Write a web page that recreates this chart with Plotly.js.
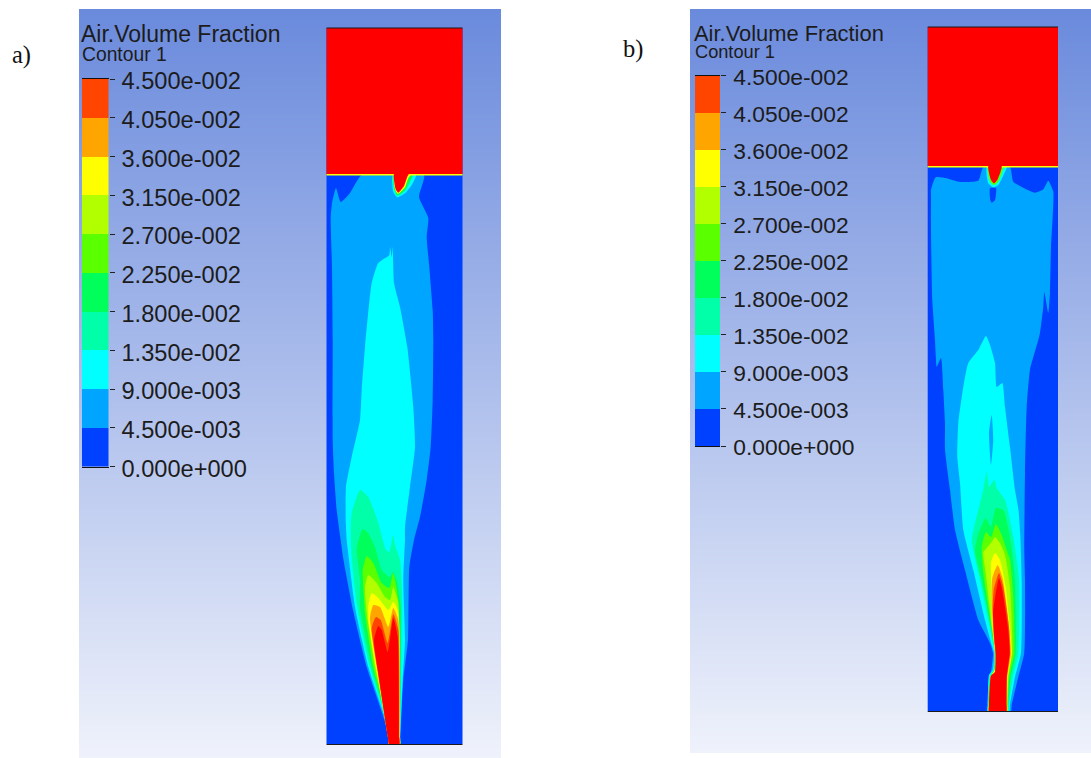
<!DOCTYPE html>
<html>
<head>
<meta charset="utf-8">
<script src="https://cdn.plot.ly/plotly-3.0.1.min.js"></script>
<style>html,body{margin:0;padding:0;background:#fff;overflow:hidden}#chart{width:1091px;height:758px}</style>
</head>
<body>
<div id="chart"></div>
<script>
// ---- Legend ----
const bandColors = ['#0040ff','#00a5ff','#00ffff','#00ffa8','#00ff5a','#5aff00','#b2ff00','#ffff00','#ffa500','#ff4500'];
const overColor = '#ff0000';
const tickValues = [0,0.0045,0.009,0.0135,0.018,0.0225,0.027,0.0315,0.036,0.0405,0.045];
const tickLabels = ['0.000e+000','4.500e-003','9.000e-003','1.350e-002','1.800e-002','2.250e-002','2.700e-002','3.150e-002','3.600e-002','4.050e-002','4.500e-002'];
const bandStep = 0.0045;
const legendTitle = 'Air.Volume Fraction';
const legendSub = 'Contour 1';

// ---- Panel a: contour outlines [x, height] ----
const colA = [[326.5,28],[462.5,28],[462.5,744],[326.5,744]];
const gasA = [[326.5,28],[462.5,28],[462.5,174],[326.5,174]];
const surfA = [[326.5,174],[462.5,174],[462.5,175.6],[326.5,175.6]];
const a1 = [[361.7,175],[350,193],[340.7,202],[336,188],[332,203],[330.7,218],[332,267],[332.7,340],[332.7,440],[334,473],[336.7,510],[340.7,540],[343,557],[353,610],[366.7,667],[385,722],[388.2,738],[389,744],[400,744],[400.3,738],[403.3,680],[408,640],[409.3,567],[414,540],[420,517],[426.7,480],[430.7,447],[432.7,400],[433.3,340],[432.7,310],[429.3,267],[426.7,237],[428.3,218],[419,197],[424,175]];
const a2 = [[390,247],[389.3,255],[378.3,263],[371.7,283],[365,347],[361.7,390],[360,420],[351.7,457],[346,487],[345.7,520],[346.7,540],[349,560],[355,607],[368.3,667],[386,722],[388.3,738],[389,744],[400,744],[400.2,738],[402.7,680],[405,640],[403.3,580],[405,540],[405,527],[410,487],[415,447],[413.3,407],[407.3,347],[400,307],[394,283],[392.7,247],[391.7,257]];
const a3 = [[389,744],[388.3,738],[386.7,722],[370,667],[357.3,607],[351.7,557],[350.7,533],[351.7,513],[360,490],[368.3,497],[378.3,523],[386,550],[389.3,552],[393.3,535],[395,545],[400,560],[402,590],[401.5,640],[400.1,738],[400,744]];
const a4 = [[389,744],[388.4,738],[387.3,722],[371.7,667],[360,607],[360,580],[356.7,550],[357.7,543],[362.7,529],[368,533],[375,547],[381.7,570],[390,577],[393.3,572],[397.3,583],[400.7,607],[400.1,738],[400,744]];
const a5 = [[389,744],[388.5,738],[387.7,722],[373.3,667],[365,613],[363.3,587],[362.7,570],[366.7,556],[373.3,563],[381.7,583],[389.3,588],[393.3,573],[398.3,600],[399.9,738],[400,744]];
const a6 = [[389,744],[388.5,738],[388,722],[375,667],[366.7,613],[365,587],[368.3,575],[376.7,583],[385,597],[390,600],[393.3,587],[398.3,603],[399.9,738],[400,744]];
const a7 = [[389,744],[388.2,738],[376,667],[368.3,620],[368.3,605],[371.7,593],[378.3,598],[388.3,610],[393.3,602],[398.3,612],[399.9,738],[400,744]];
const a8 = [[389,744],[388.2,738],[376.7,667],[370,618],[373.3,605],[380,607],[388.3,627],[393.3,608],[398.3,620],[399.5,738],[399.6,744]];
const a9 = [[389,744],[388.1,738],[378.3,673],[371.7,628],[376,617],[380.7,620],[387.7,643],[393.3,614],[398.3,630],[399.4,738],[399.5,744]];
const a10 = [[389,744],[388,738],[379.3,680],[374,640],[378.3,626],[381.7,630],[387.7,652],[393.3,618],[397.7,637],[399.2,738],[399.3,744]];
const nozA1 = [[392.7,175],[393.3,191.7],[397.3,197.3],[405,193.3],[411.7,185],[416,175]];
const nozA2 = [[393.3,175],[394.3,190],[397.3,195.7],[405,190.7],[409.3,183.3],[412.7,175]];
const nozA3 = [[394,175],[395.3,190],[398,194],[405,187.3],[408.3,178],[410.7,175]];
const nozA4 = [[394,174],[395.7,189.3],[398.3,192.7],[404,186],[407.3,176.7],[408.7,174]];

// ---- Panel b: contour outlines [x, height] ----
const colB = [[927.7,27],[1058,27],[1058,711],[927.7,711]];
const gasB = [[927.7,27],[1058,27],[1058,166],[927.7,166]];
const surfB = [[927.7,166],[1058,166],[1058,167.6],[927.7,167.6]];
const b1 = [[931,197],[931,190],[935.7,177.3],[946.7,178.3],[958.3,181.7],[978.3,180.7],[983.3,167.3],[1010,167.3],[1013.3,181.7],[1035,192.7],[1043.3,189.3],[1048.3,180.7],[1053.3,191.7],[1052.7,217],[1051,247],[1050,293],[1048.3,313],[1044.3,292],[1043.3,307],[1040,333],[1038.3,340],[1030,370],[1026.7,407],[1025,473],[1024.3,550],[1025,580],[1024.3,653],[1018.3,677],[1011.8,705],[1011,711],[987.3,711],[987.5,705],[989,677],[991,672],[993,653],[990,643],[978.3,620],[965,570],[955,530],[950,490],[945,450],[945,423],[943.3,390],[941,358],[936.7,367],[935.7,355],[935,340],[932.3,300],[931,233]];
const b1hole = [[990,188.3],[996,188.3],[995,200],[991.7,202.7],[990.3,200]];
const b2 = [[986,336],[978.3,350],[968.3,363],[963.3,387],[958.3,423],[957.3,457],[960,483],[963.3,530],[973.3,570],[985,620],[991.7,645],[994,653],[992.7,670],[989,675],[987.8,705],[987.6,711],[1009.3,711],[1010,705],[1015,677],[1021,653],[1021.7,580],[1020.3,535],[1018.5,510],[1015,490],[1010,447],[1005,407],[1002.3,383],[996.7,387],[995,363],[990,345]];
const b2hole = [[991.7,415],[989,433],[991,465],[993.3,440]];
const b3 = [[986.7,472],[983.3,490],[975,523],[971.7,540],[980,580],[988.3,620],[993.3,645],[994.7,653],[993.7,670],[989.7,676],[988.1,705],[988,711],[1008.3,711],[1009,705],[1012.7,677],[1018.3,653],[1019,580],[1016,555],[1013.3,537],[1005,500],[996.7,488],[994.3,480],[989,487]];
const b4 = [[985.7,518],[978,535],[975,550],[981.7,580],[990,623],[994,645],[995.5,653],[994,670],[990.5,676],[988.4,705],[988.3,711],[1007.7,711],[1008.2,705],[1010.7,677],[1015.7,653],[1015,580],[1012.5,555],[1010,537],[1003.3,510],[996,508],[991,527]];
const b5 = [[986,532],[981.7,547],[983.3,573],[991.7,627],[994.5,645],[995.8,653],[994.5,670],[991,676],[988.7,705],[988.6,711],[1007.5,711],[1007.8,705],[1009.3,677],[1014.3,653],[1013.3,597],[1010,560],[1006.7,550],[1001.7,535],[996,524],[991,537]];
const b6 = [[995,537],[991.7,542],[986.7,548],[983.3,552],[985.7,573],[992.3,630],[994.8,645],[996,653],[994.8,670],[991,676],[988.9,705],[988.8,711],[1007.2,711],[1007.4,705],[1008.3,677],[1012.3,653],[1010,587],[1005.7,558],[1003.3,550],[1000,543]];
const b7 = [[995,553],[991,562],[991,573],[993.3,637],[995,653],[994.8,670],[991,676],[989,705],[988.9,711],[1007,711],[1007.1,705],[1007.7,677],[1011.7,653],[1010,630],[1005.7,587],[1000,560]];
const b8 = [[997.7,565],[992.3,578],[991.7,597],[993.7,637],[995.4,653],[995,672],[991,676],[989.1,705],[989,711],[1006.7,711],[1006.8,705],[1007.3,677],[1011,653],[1008.3,620],[1002.3,577]];
const b9 = [[999,573],[993.7,590],[992.7,610],[994.3,640],[995.6,653],[995,672],[991,676],[989.1,705],[989,711],[1006.5,711],[1006.6,705],[1006.9,677],[1010,653],[1009,627],[1003.3,587]];
const b10 = [[999,578],[995,598],[993,613],[995,645],[995.7,653],[995,672],[991,676],[989.1,705],[989,711],[1006.3,711],[1006.4,705],[1006.7,677],[1009.7,653],[1008.3,630],[1002.3,590]];
const nozB1 = [[986.7,167],[988.3,183.3],[993.3,187.3],[998.3,185],[1004.3,173.3],[1006.7,167]];
const nozB2 = [[987.7,167],[990,181.7],[994,185],[998.3,181.7],[1003.3,167]];
const nozB3 = [[988.3,166],[991,180],[994,183.3],[997.3,180],[1001.7,166]];

// ---- Builders ----
const traces = [];
function bg(ax, ay, x, y){
  traces.push({type:'heatmap', xaxis:ax, yaxis:ay, x:x, y:y, z:[[0,0],[1,1]], zsmooth:'best', zmin:0, zmax:1,
    showscale:false, hoverinfo:'skip', colorscale:[[0,'#6a8adc'],[1,'#eff2fb']]});
}
function poly(ax, ay, pts, color, smooth){
  const line = smooth ? {width:0,color:color,shape:'spline',smoothing:0.5} : {width:0,color:color};
  traces.push({type:'scatter', mode:'lines', xaxis:ax, yaxis:ay,
    x:pts.map(p=>p[0]).concat(pts[0][0]), y:pts.map(p=>p[1]).concat(pts[0][1]),
    fill:'toself', fillcolor:color, line:line, hoverinfo:'skip', showlegend:false});
}
function edge(ax, ay, x0, x1, y){
  traces.push({type:'scatter', mode:'lines', xaxis:ax, yaxis:ay, x:[x0,x1], y:[y,y],
    line:{color:'#1a1a1a',width:1.2}, hoverinfo:'skip', showlegend:false});
}
function legendBars(ax, ay){
  bandColors.forEach(c=>{
    traces.push({type:'bar', xaxis:ax, yaxis:ay, x:[0], y:[bandStep], width:[1], marker:{color:c,line:{width:0}}, hoverinfo:'skip', showlegend:false});
  });
}
function labelAnchor(ax, ay){
  traces.push({type:'scatter', mode:'markers', xaxis:ax, yaxis:ay, x:[0], y:[0], marker:{size:1,opacity:0}, hoverinfo:'skip', showlegend:false});
}

// panel a
bg('x','y',[79,501],[9,758]);
poly('x','y',colA,bandColors[0]);
[a1,a2,a3,a4,a5,a6,a7,a8,a9,a10].forEach((p,i)=>poly('x','y',p,i===9?overColor:bandColors[i+1],true));
poly('x','y',nozA1,bandColors[2],true); poly('x','y',nozA2,bandColors[4],true); poly('x','y',nozA3,bandColors[7],true);
poly('x','y',gasA,overColor); poly('x','y',surfA,bandColors[7]); poly('x','y',nozA4,overColor,true);
edge('x','y',326.5,462.5,28); edge('x','y',326.5,462.5,744.5);
legendBars('x2','y2');
labelAnchor('x5','y5');

// panel b
bg('x3','y3',[690,1091],[9,753]);
poly('x3','y3',colB,bandColors[0]);
poly('x3','y3',b1,bandColors[1],true); poly('x3','y3',b1hole,bandColors[0],true);
poly('x3','y3',b2,bandColors[2],true); poly('x3','y3',b2hole,bandColors[1],true);
[b3,b4,b5,b6,b7,b8,b9,b10].forEach((p,i)=>poly('x3','y3',p,i===7?overColor:bandColors[i+3],true));
poly('x3','y3',nozB1,bandColors[2],true); poly('x3','y3',nozB2,bandColors[5],true);
poly('x3','y3',gasB,overColor); poly('x3','y3',surfB,bandColors[7]); poly('x3','y3',nozB3,overColor,true);
edge('x3','y3',927.7,1058,27); edge('x3','y3',927.7,1058,711.5);
legendBars('x4','y4');
labelAnchor('x6','y6');

const W=1091,H=758;
const hidden = (dom, range, anchor)=>({domain:dom, range:range, anchor:anchor, visible:false, fixedrange:true});
function legendX(x0,x1,anchor){
  return {domain:[x0/W,x1/W], range:[-0.5,0.5], anchor:anchor, showticklabels:false, ticks:'', showgrid:false, zeroline:false,
    showline:true, linecolor:'#111', linewidth:1, mirror:true, fixedrange:true};
}
function legendY(y0,y1,anchor){
  return {domain:[1-y1/H,1-y0/H], range:[0,0.045], anchor:anchor, side:'right', tickmode:'array', tickvals:tickValues, ticktext:tickValues.map(()=>''),
    ticks:'outside', ticklen:5, tickcolor:'#222', tickwidth:1, showgrid:false, zeroline:false, showline:false, fixedrange:true};
}
function labelY(y0,y1,anchor,size,standoff){
  return {domain:[1-y1/H,1-y0/H], range:[0,0.045], anchor:anchor, side:'right', tickmode:'array', tickvals:tickValues, ticktext:tickLabels,
    ticks:'', showgrid:false, zeroline:false, ticklabelstandoff:standoff,
    tickfont:{family:'"Liberation Sans",Arial,sans-serif', size:size, color:'#1c1c1c'}, showline:false, fixedrange:true};
}
function label(text,x,y,size,family,color){
  return {text:text, xref:'paper', yref:'paper', x:x/W, y:1-y/H, xanchor:'left', yanchor:'middle', showarrow:false,
    borderpad:0, font:{family:family, size:size, color:color}};
}
const sans='"Liberation Sans",Arial,sans-serif', serif='"Liberation Serif","Times New Roman",serif';

const layout = {
  width:W, height:H, margin:{l:0,r:0,t:0,b:0}, paper_bgcolor:'#ffffff', plot_bgcolor:'rgba(0,0,0,0)',
  showlegend:false, barmode:'stack',
  xaxis:hidden([79/W,501/W],[79,501],'y'),
  yaxis:hidden([0,1-9/H],[758,9],'x'),
  xaxis3:hidden([690/W,1],[690,1091],'y3'),
  yaxis3:hidden([1-753/H,1-9/H],[753,9],'x3'),
  xaxis2:legendX(81.5,108.5,'y2'),
  yaxis2:legendY(79,466.5,'x2'),
  xaxis4:legendX(694.7,720.3,'y4'),
  yaxis4:legendY(75.7,446,'x4'),
  xaxis5:hidden([81.5/W,108.5/W],[-0.5,0.5],'y5'),
  yaxis5:labelY(81,468.5,'x5',23.6,12),
  xaxis6:hidden([694.7/W,720.3/W],[-0.5,0.5],'y6'),
  yaxis6:labelY(77.2,447.5,'x6',22.8,12),
  annotations:[
    label(legendTitle,80,34.5,23,sans,'#1c1c1c'),
    label(legendSub,81,54.5,19.3,sans,'#1c1c1c'),
    label(legendTitle,693,33,21.9,sans,'#1c1c1c'),
    label(legendSub,694,52.5,18.2,sans,'#1c1c1c'),
    label('a)',11,55,24.5,serif,'#111'),
    label('b)',622,49,24.5,serif,'#111')
  ]
};
Plotly.newPlot('chart', traces, layout, {displayModeBar:false, staticPlot:true});
</script>
</body>
</html>
